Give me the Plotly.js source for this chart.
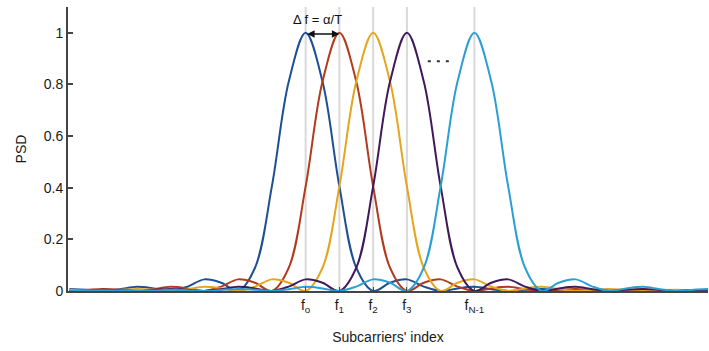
<!DOCTYPE html>
<html>
<head>
<meta charset="utf-8">
<script src="https://cdn.plot.ly/plotly-3.0.1.min.js"></script>
<style>html,body{margin:0;padding:0;background:#fff;}#chart{width:709px;height:351px;}</style>
</head>
<body>
<div id="chart"></div>
<script>
// Subcarrier axis (in units of subcarrier spacing), sampled every 0.5
const xGrid = [-7,-6.5,-6,-5.5,-5,-4.5,-4,-3.5,-3,-2.5,-2,-1.5,-1,-0.5,0,0.5,1,1.5,2,2.5,3,3.5,4,4.5,5,5.5,6,6.5,7,7.5,8,8.5,9,9.5,10,10.5,11,11.5,12];

// Subcarrier centres and their tick labels
const centers = [0, 1, 2, 3, 5];
const tickLabels = ["f<sub>o</sub>", "f<sub>1</sub>", "f<sub>2</sub>", "f<sub>3</sub>", "f<sub>N-1</sub>"];

// PSD values
const psdF0 = [0.008,0.005,0,0.007,0.016,0.010,0,0.017,0.045,0.032,0,0.090,0.405,0.811,1,0.811,0.405,0.090,0,0.032,0.045,0.017,0,0.010,0.016,0.007,0,0.005,0.008,0.004,0,0.003,0.005,0.002,0,0.002,0.003,0.002,0];
const psdF1 = [0,0.004,0.008,0.005,0,0.007,0.016,0.010,0,0.017,0.045,0.032,0,0.090,0.405,0.811,1,0.811,0.405,0.090,0,0.032,0.045,0.017,0,0.010,0.016,0.007,0,0.005,0.008,0.004,0,0.003,0.005,0.002,0,0.002,0.003];
const psdF2 = [0.005,0.003,0,0.004,0.008,0.005,0,0.007,0.016,0.010,0,0.017,0.045,0.032,0,0.090,0.405,0.811,1,0.811,0.405,0.090,0,0.032,0.045,0.017,0,0.010,0.016,0.007,0,0.005,0.008,0.004,0,0.003,0.005,0.002,0];
const psdF3 = [0,0.002,0.005,0.003,0,0.004,0.008,0.005,0,0.007,0.016,0.010,0,0.017,0.045,0.032,0,0.090,0.405,0.811,1,0.811,0.405,0.090,0,0.032,0.045,0.017,0,0.010,0.016,0.007,0,0.005,0.008,0.004,0,0.003,0.005];
const psdFN1 = [0,0.002,0.003,0.002,0,0.002,0.005,0.003,0,0.004,0.008,0.005,0,0.007,0.016,0.010,0,0.017,0.045,0.032,0,0.090,0.405,0.811,1,0.811,0.405,0.090,0,0.032,0.045,0.017,0,0.010,0.016,0.007,0,0.005,0.008];

const series = [psdF0, psdF1, psdF2, psdF3, psdFN1];
const names = ["f0", "f1", "f2", "f3", "fN-1"];
const colors = ["#1d4f95", "#b23a1d", "#e6a51f", "#40195a", "#2b9fd3"];

const traces = series.map((ys, i) => ({
  x: xGrid, y: ys, type: "scatter", mode: "lines", name: names[i],
  line: {color: colors[i], width: 2, shape: "spline", smoothing: 1},
  hoverinfo: "skip"
}));

const font = {family: "Liberation Sans, Arial, sans-serif", size: 14, color: "#1a1a1a"};

const shapes = centers.map(c => ({
  type: "line", xref: "x", yref: "y", x0: c, x1: c, y0: 0, y1: 1.1,
  line: {color: "#d9d9d9", width: 2}, layer: "below"
}));
// "..." between f3 and fN-1
shapes.push({type: "line", xref: "x", yref: "y", x0: 3.62, x1: 4.3, y0: 0.89, y1: 0.89,
  line: {color: "#333", width: 2, dash: "3px,6px"}});

const layout = {
  width: 709, height: 351,
  margin: {l: 68, r: 1, t: 7, b: 60},
  paper_bgcolor: "#fff", plot_bgcolor: "#fff",
  showlegend: false,
  font: font,
  xaxis: {
    range: [-7.04, 11.92], showgrid: false, zeroline: false,
    showline: true, linecolor: "#444", linewidth: 2,
    tickmode: "array", tickvals: centers, ticktext: tickLabels,
    ticks: "inside", ticklen: 4, tickwidth: 1, tickcolor: "#444",
    tickfont: font,
    title: {text: "Subcarriers' index", font: font, standoff: 18}
  },
  yaxis: {
    range: [0, 1.1], showgrid: false, zeroline: false,
    showline: true, linecolor: "#444", linewidth: 2,
    tickvals: [0, 0.2, 0.4, 0.6, 0.8, 1], ticktext: ["0", "0.2", "0.4", "0.6", "0.8", "1"],
    ticks: "inside", ticklen: 5, tickwidth: 2, tickcolor: "#444",
    tickfont: font,
    title: {text: "PSD", font: font, standoff: 14}
  },
  shapes: shapes,
  annotations: [
    {xref: "x", yref: "y", x: 0.35, y: 1.05, text: "Δ f = α/T", showarrow: false,
     font: {family: "Liberation Sans, Arial, sans-serif", size: 13, color: "#111"}},
    {xref: "x", yref: "y", axref: "x", ayref: "y", x: 1, y: 0.995, ax: 0, ay: 0.995,
     text: "", showarrow: true, arrowside: "end+start", arrowhead: 2, arrowsize: 1,
     arrowwidth: 1.5, arrowcolor: "#111", standoff: 0, startstandoff: 0}
  ]
};

Plotly.newPlot("chart", traces, layout, {staticPlot: true, displayModeBar: false});
</script>
</body>
</html>
